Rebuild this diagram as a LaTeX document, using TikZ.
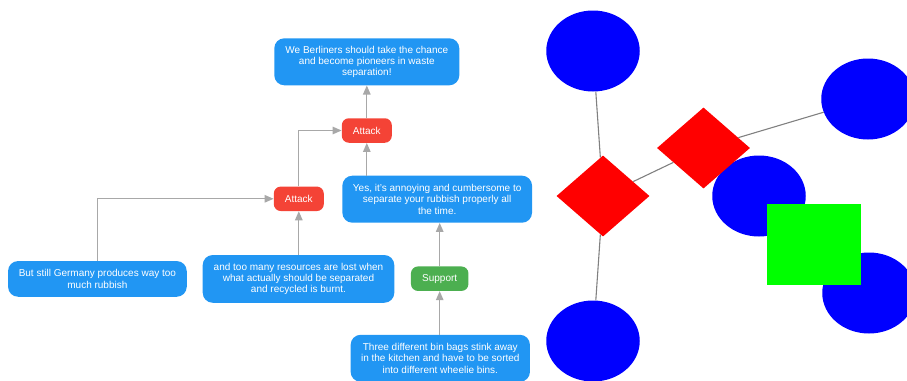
\documentclass[tikz,border=0pt]{standalone}
\usepackage{fontspec}
\setmainfont{Liberation Sans}
\usetikzlibrary{arrows.meta,shapes.geometric}

\definecolor{argblue}{HTML}{2196F3}
\definecolor{argred}{HTML}{F44336}
\definecolor{arggreen}{HTML}{4CAF50}
\definecolor{linkgray}{HTML}{A8A8A8}
\definecolor{edgegray}{HTML}{808080}

\tikzset{
  claim/.style={rectangle, rounded corners=10pt, fill=argblue, text=white,
    align=center, inner sep=0pt, font=\fontsize{10}{11.3}\selectfont},
  relation/.style={rectangle, rounded corners=7pt, text=white,
    inner sep=0pt, minimum height=24.5pt, font=\fontsize{10}{11.3}\selectfont},
  attackbox/.style={relation, fill=argred, minimum width=50pt},
  supportbox/.style={relation, fill=arggreen, minimum width=57.5pt},
  link/.style={draw=linkgray, line width=1.3pt,
    -{Triangle[length=9pt,width=7.5pt]}},
  blob/.style={ellipse, fill=blue, inner sep=0pt,
    minimum width=93.5pt, minimum height=81pt},
  rhomb/.style={diamond, fill=red, inner sep=0pt,
    minimum width=93pt, minimum height=81pt},
  block/.style={rectangle, fill=green, inner sep=0pt,
    minimum width=93.7pt, minimum height=81.6pt},
  tie/.style={draw=edgegray, line width=1.1pt}
}

\begin{document}
\begin{tikzpicture}[x=1pt, y=-1pt]
  \useasboundingbox (0,0) rectangle (907,380);
  \clip (0,0) rectangle (907,380);

  % argument tree
  \node[claim, minimum width=185pt, minimum height=47pt] (goal) at (366.8,61.8)
    {We Berliners should take the chance\\and become pioneers in waste\\separation!};
  \node[attackbox] (att1) at (366.8,130.5) {Attack};
  \node[attackbox] (att2) at (298.8,198.8) {Attack};
  \node[claim, minimum width=189.7pt, minimum height=47pt] (annoy) at (437.2,199.2)
    {Yes, it's annoying and cumbersome to\\separate your rubbish properly all\\the time.};
  \node[claim, minimum width=178.7pt, minimum height=35.7pt] (germany) at (97.4,278.9)
    {But still Germany produces way too\\much rubbish};
  \node[claim, minimum width=191.6pt, minimum height=47.7pt] (waste) at (298.5,278.9)
    {and too many resources are lost when\\what actually should be separated\\and recycled is burnt.};
  \node[supportbox] (sup) at (439.7,278.7) {Support};
  \node[claim, minimum width=179.3pt, minimum height=47pt] (bins) at (440.3,358.3)
    {Three different bin bags stink away\\in the kitchen and have to be sorted\\into different wheelie bins.};

  \draw[link] (att1) -- (goal);
  \draw[link] (annoy.north -| att1) -- (att1);
  \draw[link] (att2.north) |- (att1.west);
  \draw[link] (germany.north) |- (att2.west);
  \draw[link] (waste.north -| att2) -- (att2);
  \draw[link] (sup) -- (sup |- annoy.south);
  \draw[link] (bins.north -| sup) -- (sup);

  % network sketch
  \node[blob] (n1) at (593,51) {};
  \node[blob] (n2) at (868,99) {};
  \node[blob] (n3) at (759,196) {};
  \node[blob] (n4) at (869,293) {};
  \node[blob] (n5) at (593,341) {};
  \node[rhomb] (h1) at (603,196) {};
  \node[rhomb] (h2) at (703.5,148) {};
  \node[block] (sq) at (814.2,244.5) {};

  \draw[tie] (n1) -- (h1);
  \draw[tie] (h1) -- (n5);
  \draw[tie] (h1) -- (h2);
  \draw[tie] (h2) -- (n2);
\end{tikzpicture}
\end{document}
